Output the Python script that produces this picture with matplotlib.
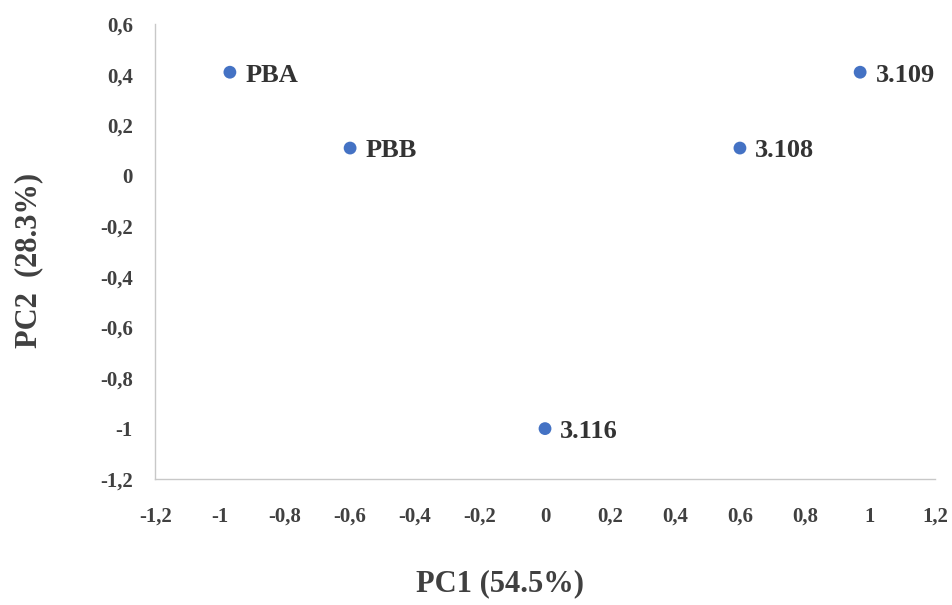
import matplotlib
matplotlib.use("Agg")
import matplotlib.pyplot as plt
from matplotlib.ticker import FuncFormatter

# PCA scores
names = ["PBA", "PBB", "3.116", "3.108", "3.109"]
pc1 = [-0.97, -0.6, 0.0, 0.6, 0.97]
pc2 = [0.41, 0.11, -1.0, 0.11, 0.41]

xticks = [-1.2, -1.0, -0.8, -0.6, -0.4, -0.2, 0.0, 0.2, 0.4, 0.6, 0.8, 1.0, 1.2]
yticks = [-1.2, -1.0, -0.8, -0.6, -0.4, -0.2, 0.0, 0.2, 0.4, 0.6]

plt.rcParams["font.family"] = ["Liberation Serif", "DejaVu Serif"]
plt.rcParams["font.weight"] = "bold"

fig = plt.figure(figsize=(9.52, 6.05), dpi=100)
ax = fig.add_axes([0.163, 0.208, 0.819, 0.752])

ax.scatter(pc1, pc2, s=85, color="#4472C4", zorder=3, edgecolors="none")
for n, x, y in zip(names, pc1, pc2):
    ax.annotate(n, (x, y), xytext=(11, -2), textcoords="offset points",
                va="center", ha="left", fontsize=19, fontweight="bold",
                color="#333333")

ax.set_xlim(-1.2, 1.2)
ax.set_ylim(-1.2, 0.6)
ax.set_xticks(xticks)
ax.set_yticks(yticks)

def comma(v, pos):
    s = f"{v:.1f}".rstrip("0").rstrip(".")
    if s in ("-0", ""):
        s = "0"
    return s.replace(".", ",")

ax.xaxis.set_major_formatter(FuncFormatter(comma))
ax.yaxis.set_major_formatter(FuncFormatter(comma))
ax.tick_params(length=0, labelsize=15, colors="#404040")
ax.tick_params(axis="y", pad=16)
ax.tick_params(axis="x", pad=20)
for lab in ax.get_xticklabels() + ax.get_yticklabels():
    lab.set_fontweight("bold")

for side in ("top", "right"):
    ax.spines[side].set_visible(False)
for side in ("left", "bottom"):
    ax.spines[side].set_color("#c8c8c8")
    ax.spines[side].set_linewidth(1)

fig.text(0.525, 0.012, "PC1 (54.5%)", ha="center", va="bottom",
         fontsize=22, fontweight="bold", color="#404040")
fig.text(0.03, 0.57, "PC2  (28.3%)", ha="center", va="center", rotation=90,
         fontsize=22, fontweight="bold", color="#404040")

fig.savefig("out.png", dpi=100)
